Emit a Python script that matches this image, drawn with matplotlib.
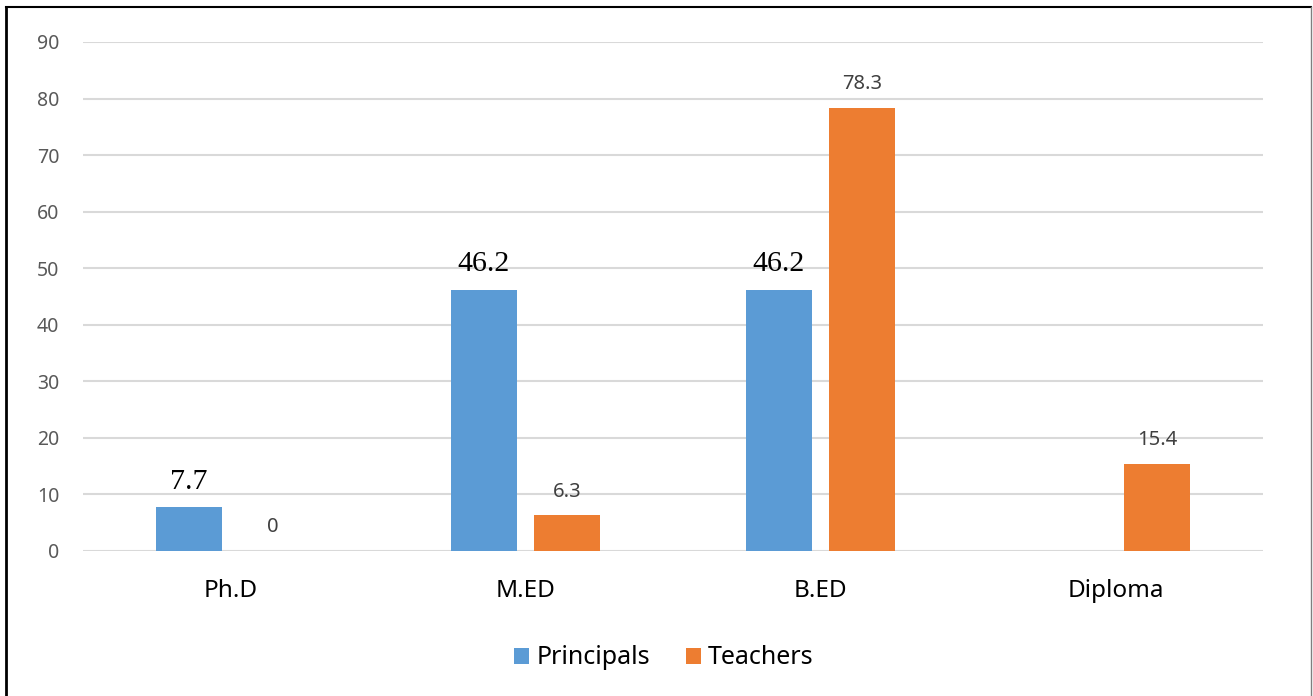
import numpy as np
import matplotlib.pyplot as plt
from matplotlib.lines import Line2D

categories = ["Ph.D", "M.ED", "B.ED", "Diploma"]
principals = [7.7, 46.2, 46.2, np.nan]
teachers = [0, 6.3, 78.3, 15.4]
y_ticks = [0, 10, 20, 30, 40, 50, 60, 70, 80, 90]

blue = "#5B9BD5"
orange = "#ED7D31"
sans = ["Noto Sans", "DejaVu Sans"]

fig = plt.figure(figsize=(13.13, 6.96), dpi=100)
ax = fig.add_axes([83/1313, 1 - 551/696, (1263-83)/1313, (551-42)/696])

x = np.arange(len(categories))
w = 0.224
off = 0.142
b1 = ax.bar(x - off, principals, w, color=blue, label="Principals", zorder=3)
b2 = ax.bar(x + off, teachers, w, color=orange, label="Teachers", zorder=3)

for xi, v in zip(x, principals):
    if np.isnan(v):
        continue
    ax.annotate(f"{v:g}", (xi - off, v), xytext=(0, 13.5), textcoords="offset points",
                ha="center", va="baseline", fontsize=21.5, family="Liberation Serif", color="black")
for xi, v in zip(x, teachers):
    ax.annotate(f"{v:g}", (xi + off, v), xytext=(0, 13.5), textcoords="offset points",
                ha="center", va="baseline", fontsize=14.5, family=sans, color="#404040")

ax.set_xlim(-0.5, len(categories) - 0.5)
ax.set_ylim(0, 90)
ax.set_yticks(y_ticks)
ax.set_xticks(x)
ax.set_xticklabels(categories, fontsize=17.5, family=sans, color="black")
for t in ax.get_yticklabels():
    t.set_family(sans)
    t.set_fontsize(14)
    t.set_color("#595959")
ax.tick_params(axis="both", length=0)
ax.tick_params(axis="x", pad=20)
ax.tick_params(axis="y", pad=17)
ax.grid(axis="y", color="#D9D9D9", linewidth=1.5, zorder=0)
for s in ax.spines.values():
    s.set_visible(False)
ax.set_axisbelow(True)

leg = fig.legend(handles=[b1, b2], loc="center", bbox_to_anchor=(664/1313, 1 - 658/696),
                 ncol=2, frameon=False, prop={"family": sans, "size": 18},
                 handlelength=0.6, handleheight=0.6, handletextpad=0.3, columnspacing=1.4)

# frame around the chart
fig.add_artist(Line2D([6/1313, 6/1313], [0, 1 - 7/696], color="black", linewidth=2, transform=fig.transFigure))
fig.add_artist(Line2D([6/1313, 1311/1313], [1 - 7/696, 1 - 7/696], color="black", linewidth=1.5, transform=fig.transFigure))
fig.add_artist(Line2D([1311/1313, 1311/1313], [0, 1 - 7/696], color="#7F7F7F", linewidth=1, transform=fig.transFigure))

fig.savefig("out.png", dpi=100)
